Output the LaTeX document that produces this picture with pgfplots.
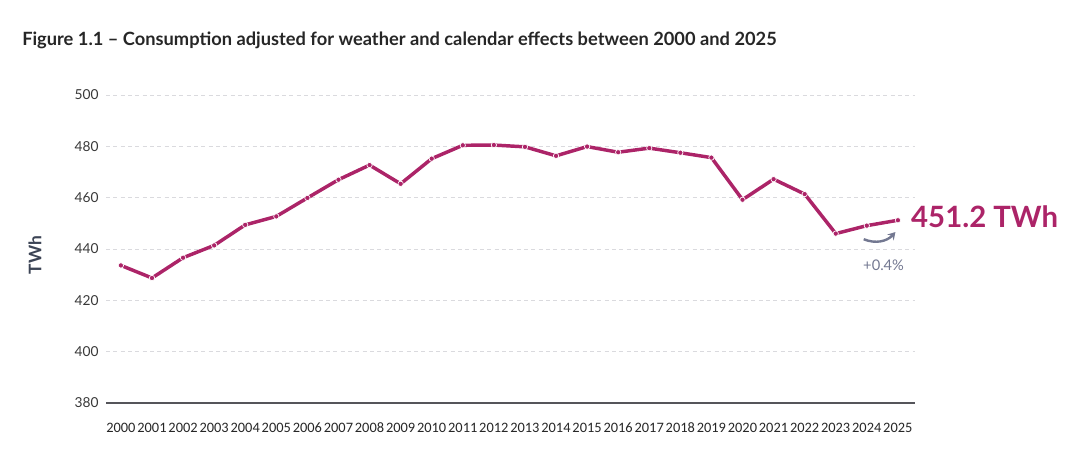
\documentclass[border=0pt]{standalone}
\usepackage{pgfplots}
\pgfplotsset{compat=1.18}
\usetikzlibrary{arrows.meta}
\usepackage{fontspec}
\setmainfont{Lato}
\newfontfamily\xfont{Carlito}
\definecolor{mag}{RGB}{172,36,104}
\definecolor{gridc}{RGB}{218,218,222}
\definecolor{axc}{RGB}{85,85,90}
\definecolor{arrc}{RGB}{115,120,145}
\definecolor{labc}{RGB}{60,68,85}
\begin{document}
\begin{tikzpicture}[x=0.75pt,y=0.75pt]
\path[use as bounding box] (0,0) rectangle (1090,467);
\node[anchor=base west,inner sep=0pt,font=\fontsize{13.7}{15}\selectfont\bfseries,text=black!85] at (22,421) {Figure 1.1 – Consumption adjusted for weather and calendar effects between 2000 and 2025};
\node[rotate=90,inner sep=0pt,font=\fontsize{13}{15}\selectfont\bfseries,text=labc] at (35,212) {TWh};
\begin{axis}[
  at={(79.5pt,48pt)}, anchor=south west,
  scale only axis, width=606.75pt, height=231pt,
  xmin=1999.52, xmax=2025.55, ymin=380, ymax=500,
  xtick={2000,...,2025}, ytick={380,400,...,500},
  /pgf/number format/assume math mode=true,
  xticklabel style={font=\xfont\fontsize{10.8}{12}\selectfont, text=black!85, text height=7.5pt, text depth=0pt},
  yticklabel style={font=\fontsize{10.3}{12}\selectfont, text=black!78},
  xticklabel={\pgfmathprintnumber[1000 sep={},fixed]{\tick}},
  axis line style={draw=none},
  tick style={draw=none},
  ymajorgrids, grid style={gridc, dash pattern=on 3pt off 2.5pt, line width=0.6pt},
  xtick pos=bottom, ytick pos=left,
  xticklabel shift=11pt, yticklabel shift=2pt,
  clip=false,
]
\draw[axc, line width=1.4pt] (axis cs:1999.52,380) -- (axis cs:2025.55,380);
\addplot[mag, line width=2.6pt, mark=*, mark size=2pt, mark options={fill=mag, draw=white, line width=0.5pt}] coordinates {
(2000,433.6) (2001,428.7) (2002,436.6) (2003,441.4) (2004,449.4)
(2005,452.7) (2006,459.9) (2007,467.0) (2008,472.7) (2009,465.4)
(2010,475.2) (2011,480.4) (2012,480.5) (2013,479.8) (2014,476.3)
(2015,479.9) (2016,477.7) (2017,479.3) (2018,477.5) (2019,475.6)
(2020,459.2) (2021,467.2) (2022,461.4) (2023,446.0) (2024,449.1)
(2025,451.2)
};
\node[anchor=west, inner sep=0pt, text=mag, font=\fontsize{22}{26}\selectfont\bfseries] at (axis cs:2025.42,452.5) {451.2 TWh};
\node[text=arrc, font=\fontsize{11}{13}\selectfont] at (axis cs:2024.54,433.8) {+0.4\%};
\draw[arrc, line width=1.8pt, -{Stealth[length=5.5pt,width=6.5pt]}] (axis cs:2023.9,443.8) to[bend right=35] (axis cs:2024.92,446.6);
\end{axis}
\end{tikzpicture}
\end{document}
